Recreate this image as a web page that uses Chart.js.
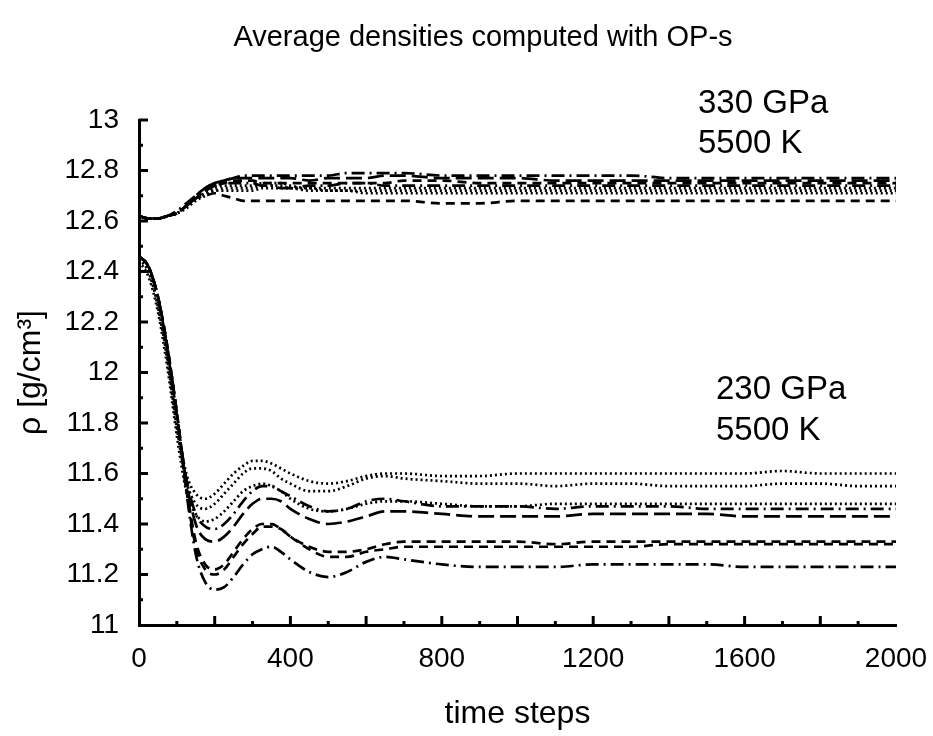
<!DOCTYPE html>
<html>
<head>
<meta charset="utf-8">
<script src="https://cdn.jsdelivr.net/npm/chart.js@4.4.1/dist/chart.umd.min.js"></script>
<style>
  html, body { margin: 0; padding: 0; background: #fff; }
  canvas { display: block; }
</style>
</head>
<body>
<canvas id="densChart" width="933" height="736"></canvas>
<script>
// time steps at which the curves were sampled
const steps = [0,25,50,75,100,125,150,175,200,225,250,275,300,325,350,375,400,450,500,550,600,650,700,800,900,1000,1100,1200,1300,1400,1500,1600,1700,1800,1900,2000];

// 330 GPa, 5500 K
const hiDashDot  = [12.62,12.61,12.61,12.62,12.64,12.67,12.70,12.73,12.75,12.76,12.77,12.78,12.78,12.78,12.78,12.78,12.78,12.78,12.78,12.79,12.79,12.79,12.79,12.78,12.78,12.78,12.78,12.78,12.78,12.77,12.77,12.77,12.77,12.77,12.77,12.77];
const hiLongDash = [12.62,12.61,12.61,12.62,12.63,12.66,12.70,12.73,12.75,12.76,12.77,12.77,12.77,12.77,12.77,12.77,12.77,12.76,12.77,12.77,12.77,12.78,12.78,12.77,12.77,12.77,12.76,12.76,12.76,12.76,12.76,12.76,12.76,12.76,12.76,12.76];
const hiDashA    = [12.62,12.61,12.61,12.62,12.63,12.66,12.69,12.72,12.74,12.75,12.76,12.76,12.76,12.75,12.75,12.75,12.75,12.75,12.75,12.75,12.75,12.75,12.76,12.76,12.75,12.75,12.75,12.75,12.75,12.75,12.75,12.75,12.75,12.75,12.75,12.75];
const hiDashDot2 = [12.62,12.61,12.61,12.62,12.63,12.66,12.69,12.72,12.74,12.75,12.75,12.75,12.75,12.74,12.74,12.73,12.73,12.74,12.74,12.75,12.75,12.74,12.74,12.74,12.74,12.74,12.74,12.74,12.74,12.74,12.74,12.74,12.74,12.74,12.74,12.74];
const hiDotA     = [12.62,12.61,12.61,12.62,12.63,12.66,12.69,12.71,12.73,12.74,12.74,12.74,12.74,12.75,12.75,12.75,12.74,12.73,12.73,12.73,12.73,12.73,12.73,12.73,12.73,12.73,12.73,12.73,12.73,12.73,12.73,12.73,12.73,12.73,12.73,12.73];
const hiDotB     = [12.62,12.61,12.61,12.62,12.63,12.66,12.69,12.71,12.72,12.73,12.73,12.73,12.73,12.74,12.74,12.74,12.73,12.73,12.72,12.72,12.72,12.72,12.72,12.72,12.72,12.72,12.72,12.72,12.72,12.72,12.72,12.72,12.72,12.72,12.72,12.72];
const hiDotC     = [12.62,12.61,12.61,12.62,12.63,12.65,12.68,12.70,12.72,12.72,12.72,12.72,12.72,12.73,12.73,12.73,12.73,12.72,12.72,12.72,12.71,12.71,12.71,12.71,12.71,12.71,12.71,12.71,12.71,12.71,12.71,12.71,12.71,12.71,12.71,12.71];
const hiDashB    = [12.62,12.61,12.61,12.62,12.63,12.66,12.69,12.70,12.71,12.70,12.69,12.68,12.68,12.68,12.68,12.68,12.68,12.68,12.68,12.68,12.68,12.68,12.68,12.67,12.67,12.68,12.68,12.68,12.68,12.68,12.68,12.68,12.68,12.68,12.68,12.68];

// 230 GPa, 5500 K
const loDotA     = [12.45,12.40,12.27,12.06,11.80,11.60,11.52,11.50,11.52,11.56,11.60,11.63,11.65,11.65,11.64,11.62,11.60,11.57,11.56,11.57,11.59,11.60,11.60,11.59,11.59,11.60,11.60,11.60,11.60,11.60,11.60,11.60,11.61,11.60,11.60,11.60];
const loDotB     = [12.45,12.40,12.26,12.05,11.78,11.57,11.48,11.46,11.48,11.52,11.56,11.60,11.62,11.62,11.61,11.58,11.56,11.53,11.53,11.55,11.58,11.59,11.58,11.57,11.56,11.56,11.55,11.56,11.56,11.55,11.55,11.55,11.56,11.56,11.55,11.55];
const loDotC     = [12.44,12.38,12.24,12.02,11.75,11.53,11.44,11.41,11.42,11.45,11.49,11.53,11.55,11.56,11.55,11.53,11.50,11.46,11.45,11.46,11.48,11.49,11.49,11.48,11.47,11.47,11.48,11.48,11.48,11.48,11.48,11.48,11.48,11.48,11.48,11.48];
const loDashDot2 = [12.46,12.42,12.29,12.08,11.82,11.58,11.44,11.39,11.38,11.40,11.44,11.49,11.53,11.55,11.55,11.53,11.51,11.47,11.45,11.46,11.49,11.50,11.49,11.47,11.47,11.47,11.46,11.47,11.47,11.47,11.46,11.46,11.46,11.46,11.46,11.46];
const loLongDash = [12.46,12.42,12.30,12.09,11.83,11.57,11.40,11.34,11.33,11.35,11.39,11.44,11.48,11.50,11.50,11.49,11.46,11.42,11.40,11.41,11.43,11.45,11.45,11.44,11.43,11.43,11.43,11.44,11.44,11.44,11.44,11.43,11.43,11.43,11.43,11.43];
const loDashA    = [12.46,12.42,12.30,12.10,11.84,11.55,11.33,11.24,11.22,11.24,11.29,11.34,11.38,11.40,11.40,11.38,11.35,11.31,11.29,11.29,11.30,11.32,11.33,11.33,11.33,11.33,11.32,11.33,11.33,11.33,11.33,11.33,11.33,11.33,11.33,11.33];
const loDashB    = [12.46,12.42,12.30,12.10,11.84,11.54,11.31,11.22,11.20,11.22,11.27,11.32,11.36,11.39,11.39,11.38,11.35,11.30,11.27,11.27,11.29,11.30,11.31,11.31,11.31,11.31,11.31,11.31,11.31,11.32,11.32,11.32,11.32,11.32,11.32,11.32];
const loDashDot  = [12.46,12.42,12.30,12.10,11.84,11.53,11.28,11.17,11.14,11.15,11.19,11.24,11.28,11.30,11.31,11.29,11.26,11.21,11.19,11.21,11.25,11.27,11.26,11.24,11.23,11.23,11.23,11.24,11.24,11.24,11.24,11.23,11.23,11.23,11.23,11.23];

const xTicks = [0, 400, 800, 1200, 1600, 2000];
const yTicks = [11, 11.2, 11.4, 11.6, 11.8, 12, 12.2, 12.4, 12.6, 12.8, 13];

const DOT = [2, 3];
const DASH = [9, 6];
const LONG = [16, 6];
const DASHDOT = [13, 5, 2, 5];

function series(vals, dash) {
  return {
    data: steps.map((t, i) => ({ x: t, y: vals[i] })),
    borderColor: "#000",
    borderWidth: 2.7,
    borderDash: dash,
    pointRadius: 0,
    fill: false,
    cubicInterpolationMode: "monotone"
  };
}

const font = "'Liberation Sans', Arial, sans-serif";

// inward tick marks and the text labels
const decor = {
  id: "decor",
  afterDraw(chart) {
    const ctx = chart.ctx;
    const xs = chart.scales.x, ys = chart.scales.y;
    const a = chart.chartArea;
    ctx.save();
    ctx.strokeStyle = "#000";
    ctx.lineWidth = 3;
    for (let t = 100; t < 2000; t += 100) {
      const px = xs.getPixelForValue(t);
      const len = t % 200 === 0 ? 9 : 4;
      ctx.beginPath();
      ctx.moveTo(px, a.bottom);
      ctx.lineTo(px, a.bottom - len);
      ctx.stroke();
    }
    for (let k = 1; k <= 20; k++) {
      const v = 11 + k * 0.1;
      const py = ys.getPixelForValue(v);
      const len = k % 2 === 0 ? 9 : 4;
      ctx.beginPath();
      ctx.moveTo(a.left, py);
      ctx.lineTo(a.left + len, py);
      ctx.stroke();
    }
    ctx.fillStyle = "#000";
    ctx.textBaseline = "middle";
    ctx.textAlign = "center";
    ctx.font = "29px " + font;
    ctx.fillText("Average densities computed with OP-s", 483, 38);
    ctx.textAlign = "left";
    ctx.font = "33px " + font;
    ctx.fillText("330 GPa", 698, 104);
    ctx.fillText("5500 K", 698, 144);
    ctx.fillText("230 GPa", 716, 390);
    ctx.fillText("5500 K", 716, 431);
    ctx.restore();
  }
};

new Chart(document.getElementById("densChart"), {
  type: "line",
  data: {
    datasets: [
      series(hiDashDot, DASHDOT), series(hiLongDash, LONG), series(hiDashA, DASH), series(hiDashDot2, DASHDOT),
      series(hiDotA, DOT), series(hiDotB, DOT), series(hiDotC, DOT), series(hiDashB, DASH),
      series(loDotA, DOT), series(loDotB, DOT), series(loDotC, DOT), series(loDashDot2, DASHDOT),
      series(loLongDash, LONG), series(loDashA, DASH), series(loDashB, DASH), series(loDashDot, DASHDOT)
    ]
  },
  options: {
    responsive: false,
    animation: false,
    layout: { padding: { top: 120, right: 37, left: 0, bottom: 0 } },
    plugins: { legend: { display: false }, tooltip: { enabled: false } },
    scales: {
      x: {
        type: "linear",
        min: 0, max: 2000,
        afterFit: s => { s.height = 111; s.paddingLeft = 0; s.paddingRight = 0; },
        afterBuildTicks: s => { s.ticks = xTicks.map(v => ({ value: v })); },
        grid: { display: false, drawTicks: false, tickLength: 0 },
        border: { display: true, color: "#000", width: 3 },
        ticks: { color: "#000", font: { size: 28, family: font }, padding: 17, maxRotation: 0,
                 callback: v => String(v) },
        title: { display: true, text: "time steps", color: "#000", font: { size: 32, family: font }, padding: { top: 0, bottom: 3 } }
      },
      y: {
        min: 11, max: 13,
        afterFit: s => { s.width = 139; s.paddingTop = 0; s.paddingBottom = 0; },
        afterBuildTicks: s => { s.ticks = yTicks.map(v => ({ value: v })); },
        grid: { display: false, drawTicks: false, tickLength: 0 },
        border: { display: true, color: "#000", width: 3 },
        ticks: { color: "#000", font: { size: 28, family: font }, padding: 20,
                 callback: v => String(Number(v.toFixed(1))) },
        title: { display: true, text: "ρ [g/cm³]", color: "#000", font: { size: 32, family: font }, padding: { top: 12, bottom: 0 } }
      }
    }
  },
  plugins: [decor]
});
</script>
</body>
</html>
